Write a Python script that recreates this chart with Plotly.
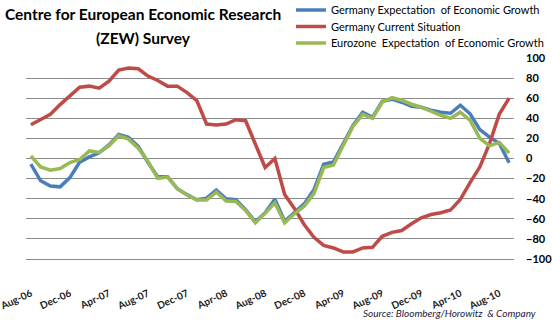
import plotly.graph_objects as go

months = ["Aug-06", "Sep-06", "Oct-06", "Nov-06", "Dec-06",
          "Jan-07", "Feb-07", "Mar-07", "Apr-07", "May-07", "Jun-07", "Jul-07", "Aug-07", "Sep-07", "Oct-07", "Nov-07", "Dec-07",
          "Jan-08", "Feb-08", "Mar-08", "Apr-08", "May-08", "Jun-08", "Jul-08", "Aug-08", "Sep-08", "Oct-08", "Nov-08", "Dec-08",
          "Jan-09", "Feb-09", "Mar-09", "Apr-09", "May-09", "Jun-09", "Jul-09", "Aug-09", "Sep-09", "Oct-09", "Nov-09", "Dec-09",
          "Jan-10", "Feb-10", "Mar-10", "Apr-10", "May-10", "Jun-10", "Jul-10", "Aug-10", "Sep-10"]

germany_expectation = [-5.6, -22.2, -27.4, -28.2, -19.0,
                       -3.6, 1.6, 5.8, 13.5, 24.0, 21.0, 12.0, -4.0, -18.1, -18.1, -30.0, -36.0,
                       -41.0, -39.5, -31.5, -40.0, -41.0, -51.0, -63.0, -54.0, -40.5, -62.5, -53.5, -45.2,
                       -31.0, -5.8, -3.5, 15.0, 33.0, 46.0, 41.0, 57.0, 59.0, 56.0, 52.0, 51.0,
                       48.0, 46.0, 45.0, 53.0, 44.5, 28.7, 21.2, 15.0, -4.3]

germany_current = [33.6, 39.0, 44.0, 53.6, 62.6,
                   71.0, 72.0, 70.0, 77.0, 88.0, 90.0, 89.3, 82.0, 77.6, 72.0, 72.0, 65.6,
                   57.6, 34.3, 33.3, 34.3, 38.6, 37.6, 14.3, -9.0, 0.0, -35.7, -49.7, -65.7,
                   -78.4, -86.4, -89.0, -93.0, -93.0, -89.0, -88.4, -77.4, -73.5, -71.7, -65.0, -59.0,
                   -55.7, -54.0, -51.3, -40.7, -24.0, -8.4, 15.0, 44.3, 60.0]

eurozone_expectation = [2.5, -8.4, -11.7, -10.0, -4.0,
                        -1.0, 7.5, 6.0, 12.6, 22.6, 19.3, 10.3, -3.0, -19.7, -18.4, -29.7, -36.4,
                        -41.4, -41.4, -33.4, -42.4, -42.7, -51.7, -64.0, -54.5, -44.0, -64.0, -55.0, -47.4,
                        -35.0, -9.0, -6.4, 13.0, 32.0, 44.0, 40.0, 56.0, 60.5, 58.0, 54.0, 51.0,
                        47.0, 43.0, 40.0, 46.0, 38.0, 20.0, 12.6, 16.0, 5.3]

tick_labels = ["Aug-06", "Dec-06", "Apr-07", "Aug-07", "Dec-07", "Apr-08", "Aug-08",
               "Dec-08", "Apr-09", "Aug-09", "Dec-09", "Apr-10", "Aug-10"]
y_ticks = [-100, -80, -60, -40, -20, 0, 20, 40, 60, 80, 100]

series = [
    ("Germany Expectation  of Economic Growth", germany_expectation, "#4A7EBB", "legend", 10),
    ("Germany Current Situation", germany_current, "#BE4B48", "legend2", 26.5),
    ("Eurozone  Expectation  of Economic Growth", eurozone_expectation, "#98B954", "legend3", 43),
]

# geometry (pixels)
L, T = 26, 58
WT, HT = 490, 203
R = 552 - L - WT
B = 327 - T - HT
S = 2  # shadow offset

FONT = "Lato"

fig = go.Figure()

# shadows (on shifted axes x/y)
for name, vals, col, lg, ry in series:
    fig.add_trace(go.Scatter(x=months, y=vals, xaxis="x", yaxis="y", mode="lines",
                             line=dict(color="rgba(0,0,0,0.16)", width=4.5),
                             showlegend=False, hoverinfo="skip"))
# data lines
for name, vals, col, lg, ry in series:
    fig.add_trace(go.Scatter(x=months, y=vals, xaxis="x2", yaxis="y2", mode="lines", name=name,
                             legend=lg, line=dict(color=col, width=3.5)))

def px_x(p):
    return (p - L) / WT

def px_y(p):
    return (327 - B - p) / HT

grid = "#8C8C8C"
legend_style = dict(x=px_x(291), xanchor="left", yanchor="middle",
                    bgcolor="rgba(0,0,0,0)", font=dict(family=FONT, size=11, color="#000000"),
                    itemwidth=30)
legends = {lg: dict(legend_style, y=px_y(ry)) for name, vals, col, lg, ry in series}

fig.update_layout(
    width=552, height=327,
    margin=dict(l=L, r=R, t=T, b=B, autoexpand=False),
    paper_bgcolor="white", plot_bgcolor="white",
    font=dict(family=FONT, color="#000000"),
    xaxis=dict(domain=[S / WT, 1], type="category", categoryorder="array", categoryarray=months,
               range=[-0.5, len(months) - 0.5], visible=False, anchor="y"),
    yaxis=dict(domain=[0, 1 - S / HT], range=[-100, 100], visible=False, anchor="x"),
    xaxis2=dict(domain=[0, 1 - S / WT], type="category", categoryorder="array", categoryarray=months,
                range=[-0.5, len(months) - 0.5], anchor="y2",
                tickmode="array", tickvals=tick_labels, ticktext=tick_labels, tickangle=-25,
                tickfont=dict(family=FONT, size=10, weight="bold", color="#1a1a1a"),
                showline=True, linecolor=grid, linewidth=1, showgrid=False, ticks="",
                ticklabelstandoff=24),
    yaxis2=dict(domain=[S / HT, 1], range=[-100, 100], anchor="x2", side="right",
                tickmode="array", tickvals=y_ticks, showgrid=True, gridcolor=grid, gridwidth=1,
                zeroline=False, showline=False, ticks="",
                tickfont=dict(family=FONT, size=11, weight="bold", color="#000000"),
                ticklabelstandoff=11),
    yaxis3=dict(overlaying="y2", side="left", range=[-100, 100], tickmode="array", tickvals=y_ticks,
                showticklabels=False, showgrid=False, zeroline=False, showline=True,
                linecolor=grid, linewidth=1, ticks="outside", ticklen=4, tickcolor=grid, anchor="x2"),
    xaxis3=dict(overlaying="x2", type="linear", range=[-0.5, len(months) - 0.5],
                anchor="free", position=(S / HT + 1) / 2,
                tickmode="array", tickvals=[i + 3.5 for i in range(0, len(months) - 4, 4)],
                showticklabels=False, showgrid=False, zeroline=False, showline=True,
                linecolor=grid, linewidth=1, ticks="outside", ticklen=4, tickcolor=grid),
    showlegend=True,
    annotations=[
        dict(text="<b>Centre for European Economic Research</b>", xref="paper", yref="paper",
             x=px_x(143), y=px_y(14), xanchor="center", yanchor="middle", showarrow=False,
             font=dict(family=FONT, size=15.5, color="#000000")),
        dict(text="<b>(ZEW) Survey</b>", xref="paper", yref="paper",
             x=px_x(143), y=px_y(38), xanchor="center", yanchor="middle", showarrow=False,
             font=dict(family=FONT, size=15.5, color="#000000")),
        dict(text="<i>Source: Bloomberg/Horowitz  &amp; Company</i>", xref="paper", yref="paper",
             x=px_x(449), y=px_y(313), xanchor="center", yanchor="middle", showarrow=False,
             font=dict(family=FONT, size=10, color="#1a1a3a")),
    ],
)
fig.update_layout(**legends)

fig.write_html("out.html")
